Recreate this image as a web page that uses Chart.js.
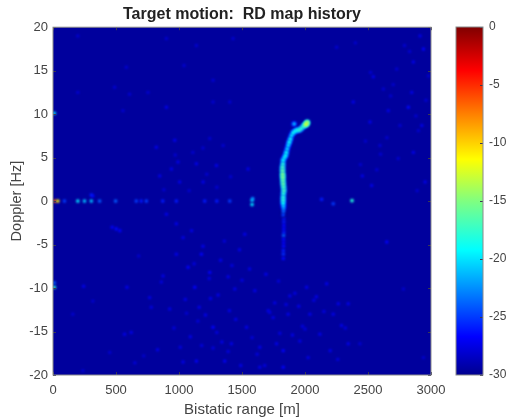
<!DOCTYPE html>
<html>
<head>
<meta charset="utf-8">
<title>RD map history</title>
<script src="https://cdn.jsdelivr.net/npm/chart.js"></script>
<style>
  html, body { margin: 0; padding: 0; background: #fff; }
  #wrap { position: relative; width: 508px; height: 419px; }
  canvas { position: absolute; top: 0; filter: blur(0.4px); }
  #rdMap { left: 0; }
  #colorBar { left: 440px; }
</style>
</head>
<body>
<div id="wrap">
  <canvas id="rdMap" width="508" height="419"></canvas>
  <canvas id="colorBar" width="68" height="419"></canvas>
</div>
<script>
// target track
const targetRange =   [1827, 1829, 1830, 1829, 1827, 1827, 1827, 1829, 1832, 1830, 1827, 1825, 1824, 1823, 1822, 1822, 1825, 1827, 1836, 1846, 1852, 1859, 1867, 1875, 1884, 1893, 1906, 1920, 1914, 1936, 1954, 1970, 1986, 2000, 2012, 2018]
const targetDoppler = [-1.6, -1.2, -0.9, -0.6, -0.25, 0.1, 0.44, 0.85, 1.21, 1.6, 1.98, 2.35, 2.74, 3.1, 3.51, 3.9, 4.28, 4.7, 5.0, 5.24, 5.6, 6.0, 6.4, 6.77, 7.15, 7.54, 7.85, 8.04, 8.88, 8.15, 8.19, 8.35, 8.57, 8.75, 8.88, 9.05]
const targetLevel =   [-25, -24, -23, -21, -19, -18, -18, -18, -17, -17, -16, -16, -15, -15, -16, -17, -18, -19, -20, -19, -19, -20, -20, -19, -19, -20, -19, -19, -21, -19, -18, -18, -18, -15, -12, -14]

// faint streak running below the target
const trailRange =   [1832, 1832, 1832, 1832, 1832, 1830, 1830, 1830, 1830, 1828, 1828, 1828]
const trailDoppler = [-2.0, -2.4, -2.8, -3.2, -3.6, -3.97, -4.4, -4.8, -5.2, -5.7, -6.1, -6.6]
const trailLevel =   [-26, -26, -26.5, -26.5, -26, -24, -26.5, -27, -26.5, -26, -25.5, -26.5]

// zero doppler clutter and the isolated returns
const clutterRange =   [12, 38, 91, 197, 250, 304, 304, 370, 497, 661, 700, 741, 871, 979, 1204, 1300, 1403, 1580, 1585, 1580, 2132, 2224, 2373, 10, 10, 502, 530, 470, 10]
const clutterDoppler = [0, 0, 0, 0, 0, 0, 0.7, 0, 0, 0, 0, 0, 0, 0, 0, 0, 0, -0.4, 0.3, 0.1, 0.2, -0.3, 0.05, 10.1, -9.9, -3.2, -3.4, -3.0, -9.4]
const clutterLevel =   [-6, -11, -25, -20, -21, -21, -26, -24, -24, -25, -26, -25, -26, -26, -26, -26, -25, -20, -23, -21, -26, -25, -18, -20, -18, -26.5, -27, -27, -24]

// background speckle
const speckleRange = [900, 979, 1178, 1244, 1125, 587, 243, 568, 621, 926, 1270, 1363, 1032, 1138, 1416, 1032, 873, 767, 157, 316, 237, 1443, 979, 1072,
  582, 900, 555, 197, 489, 608, 754, 820, 966, 1138, 992, 847, 940, 1297, 1350, 1244, 1429, 900, 197, 1138, 1270, 1270, 1403, 1005, 1191, 316,
  2820, 2940, 2251, 2913, 2542, 2860, 2383, 2661, 2516, 2455, 2860, 2728, 2622, 2754, 2595, 2927, 2529, 2953, 2847, 1548,
  2649, 2781, 1827, 1866, 1747, 2013, 2264, 2343, 2343, 1641, 1708, 2118, 2039, 1959, 1536, 1602, 1522, 2172, 1880, 2224, 1774, 1641, 2025, 1827, 2940, 2436,
  1100, 1190, 1330, 1480, 1050, 1400, 1210, 1340, 830, 1090, 720, 680, 450, 1390, 1490, 1250, 1160, 1310, 1450, 1560, 1690, 1760, 1900, 1950, 2090, 2200, 2290,
  2700, 2790, 2880, 2650, 2480, 2570, 2980, 2400, 2740, 2890,
  1040, 1120, 1240, 1360, 860, 960, 1180, 1300, 1420, 780, 650, 1060, 1150, 1270, 1390, 1500, 1620, 1720, 1800, 1850, 1980, 2070, 2150, 2260, 2320, 1580, 1680, 1790, 1920, 2000,
  1010, 1110, 1220, 1300, 1410, 880, 970, 1080, 1190, 2600, 2680, 2830, 2900, 2960, 2520, 2440]
const speckleDoppler = [-1.5, -2.6, -6.1, -8.2, -9.9, -9.9, -9.8, -15.3, -15.1, -12.4, -14.5, -18.4, -18.5, -18.4, -16.4, -4.2, -8.6, -11.1, -13, -11.5, -19.5, -10.1, -6.1, -7.6,
  15.4, 10.8, 10.4, 12.5, 13.1, 12.3, 12.5, 6.2, 7, 4.3, 4.5, 2.9, 3.7, 4.1, 6.4, 7.2, 18.7, 18.7, 19, 17.9, 13.9, 11.4, 11.4, 2.2, 2.2, 0.6,
  10.8, 17.5, 17.7, 19, 14.3, 16, 11.4, 10.4, 9.1, 2.9, 5.6, 15.2, 12.9, 8.7, 6.4, 8.7, 1.8, 2.2, 12.5, 3.7,
  -4.7, -10.1, -17.2, -13, -13.4, -9.9, -11.8, -11.8, -16.4, -16.8, -12.6, -15.3, -13, -16.1, -14.5, -10.3, -3.8, -9.5, -10.9, -13, -16.4, -19.1, -18, -19.1, -18, -16.4,
  -3.4, -5.2, -6.8, -5.6, -11.3, -12.6, -13.1, -16.2, -17.1, -15.6, -17.8, -6.3, -17.4, -8.7, -18.9, -11.2, -12.2, -10.8, -13.6, -7.8, -8.4, -11.7, -15.4, -12.1, -11, -17.2, -14.3,
  13.4, 17.9, 9.8, 7.3, 6.9, 3.6, 14.4, 18.2, 4.9, 1.2, 15.6,
  -7.2, -8.9, -4.6, -9.3, -14.6, -16.6, -15.1, -7.4, -12.2, -18.6, -12.9, -13.8, -16.9, -17.3, -9.1, -17.6, -12.8, -15.2, -11.9, -14.4, -11.4, -12.7, -18.2, -14.6, -15.7, -18.9, -9.2, -10.6, -14.7, -16.8,
  5.6, 3.1, 1.6, 2.8, 1.3, 5.3, 1.2, 6.1, 5.4, 12.1, 17.2, 8.1, 11.6, 14.8, 4.2, 7.7]
const speckleLevel = [-27.3, -27.3, -26.7, -26.7, -26.7, -27.3, -27.3, -27.3, -27.3, -27.3, -26.7, -26.7, -27.3, -26.7, -27.3, -27.3, -27.3, -27.3, -28, -28, -28, -27.3, -27.3, -26.7,
  -28, -27.3, -28, -28, -28, -28, -28, -27.3, -27.3, -27.3, -27.3, -27.3, -27.3, -27.3, -28, -28, -28, -28, -28, -28, -28, -28, -28, -27.3, -27.3, -26.7,
  -26.5, -26.7, -28, -27.3, -27.3, -27.3, -27.3, -27.3, -27.3, -27.3, -27.3, -28, -28, -28, -28, -27.3, -27.3, -27.3, -27.3, -27.3,
  -26.7, -28, -26.7, -27.3, -27.3, -27.3, -27.3, -27.3, -27.3, -27.3, -27.3, -27.3, -27.3, -27.3, -27.3, -27.3, -27.3, -27.3, -27.3, -27.3, -27.3, -27.3, -27.3, -26.7, -28, -28,
  -27.3, -27.3, -27.3, -27.3, -27.3, -27.3, -27.3, -27.3, -27.3, -27.3, -28, -28, -28, -27.3, -27.3, -27.3, -27.3, -27.3, -27.3, -27.3, -27.3, -27.3, -27.3, -27.3, -27.3, -27.3, -27.3,
  -28, -28, -28, -28, -28, -28, -28, -28, -28, -28, -28,
  -27.6, -27.6, -27.6, -27.6, -27.6, -27.6, -27.6, -27.6, -27.6, -27.6, -28, -27.6, -27.6, -27.6, -27.6, -27.6, -27.6, -27.6, -27.6, -27.6, -27.6, -27.6, -27.6, -27.6, -27.6, -27.6, -27.6, -27.6, -27.6, -27.6,
  -28, -28, -28, -28, -28, -28, -28, -28, -28, -28, -28, -28, -28, -28, -28, -28]

const rangeTicks = [0, 500, 1000, 1500, 2000, 2500, 3000]
const dopplerTicks = [-20, -15, -10, -5, 0, 5, 10, 15, 20]
const levelTicks = [-30, -25, -20, -15, -10, -5, 0]

const jetStops = ['#00008f', '#0000ff', '#00ffff', '#80ff80', '#ffff00', '#ff8000', '#ff0000', '#800000']
const jetPos = [0, 0.11, 0.36, 0.5, 0.62, 0.75, 0.875, 1]
const textColor = '#444'
const fontFamily = '"Liberation Sans", Arial, sans-serif'

function hexRgb(h) {
  return [1, 3, 5].map(i => parseInt(h.substr(i, 2), 16))
}

// level in dB to a colour on the same scale as the colour bar
function jet(level) {
  const t = Math.min(1, Math.max(0, (level + 30) / 30))
  let i = 0
  while (i < jetPos.length - 2 && t > jetPos[i + 1]) i++
  const f = (t - jetPos[i]) / (jetPos[i + 1] - jetPos[i])
  const a = hexRgb(jetStops[i]), b = hexRgb(jetStops[i + 1])
  const c = a.map((v, k) => Math.round(v + (b[k] - v) * f))
  return 'rgb(' + c.join(',') + ')'
}

function points(xs, ys, levels) {
  return xs.map((x, i) => ({ x: x, y: ys[i], level: levels[i] }))
}

function marks(data, radius) {
  return {
    data: data,
    showLine: false,
    pointStyle: 'circle',
    pointRadius: radius,
    pointBorderWidth: 0,
    pointBackgroundColor: c => jet(c.raw.level)
  }
}

const heatPlugin = {
  id: 'heat',
  beforeDatasetsDraw(chart) {
    const a = chart.chartArea, g = chart.ctx
    g.save()
    g.fillStyle = jet(-29.6)
    g.fillRect(a.left, a.top, a.width, a.height)
    g.filter = 'blur(0.9px)'
  },
  afterDatasetsDraw(chart) {
    chart.ctx.restore()
  }
}

// matlab style box with the small ticks pointing inwards
const framePlugin = {
  id: 'frame',
  afterDraw(chart) {
    const a = chart.chartArea, g = chart.ctx
    g.save()
    g.strokeStyle = '#3a3a50'
    g.lineWidth = 1
    g.beginPath()
    const yAxis = chart.scales.y
    yAxis.ticks.forEach(t => {
      const p = Math.round(yAxis.getPixelForValue(t.value)) + 0.5
      if (chart.canvas.id === 'rdMap') {
        g.moveTo(a.left, p); g.lineTo(a.left + 3, p)
        g.moveTo(a.right, p); g.lineTo(a.right - 3, p)
      } else {
        g.moveTo(a.right, p); g.lineTo(a.right - 3, p)
      }
    })
    if (chart.canvas.id === 'rdMap') {
      const xAxis = chart.scales.x
      xAxis.ticks.forEach(t => {
        const p = Math.round(xAxis.getPixelForValue(t.value)) + 0.5
        g.moveTo(p, a.bottom); g.lineTo(p, a.bottom - 3)
        g.moveTo(p, a.top); g.lineTo(p, a.top + 3)
      })
    }
    g.stroke()
    g.strokeStyle = '#8a8a8a'
    g.strokeRect(a.left, a.top, a.width, a.height)
    g.restore()
  }
}

new Chart(document.getElementById('rdMap'), {
  type: 'scatter',
  data: {
    datasets: [
      marks(points(targetRange, targetDoppler, targetLevel), 1.9),
      marks(points(targetRange, targetDoppler, targetLevel.map(v => v - 6)), 3),
      marks(points(trailRange, trailDoppler, trailLevel), 1.8),
      marks(points(clutterRange, clutterDoppler, clutterLevel), 1.8),
      marks(points(speckleRange, speckleDoppler, speckleLevel), 1.7)
    ]
  },
  options: {
    responsive: false,
    animation: false,
    layout: { padding: { left: 0, right: 77, top: 0, bottom: 0 } },
    plugins: {
      legend: { display: false },
      tooltip: { enabled: false },
      title: {
        display: true,
        fullSize: false,
        text: 'Target motion:  RD map history',
        color: '#222',
        font: { family: fontFamily, size: 16, weight: 'bold' },
        padding: { top: 5, bottom: 3 }
      }
    },
    scales: {
      x: {
        type: 'linear',
        min: 0,
        max: 3000,
        afterBuildTicks: s => { s.ticks = rangeTicks.map(v => ({ value: v })) },
        afterFit: s => { s.height = 44 },
        grid: { display: false, drawTicks: false },
        border: { display: false },
        ticks: { color: textColor, padding: 8, maxRotation: 0, font: { family: fontFamily, size: 13 }, callback: v => String(v) },
        title: { display: true, text: 'Bistatic range [m]', color: textColor, padding: { top: 2, bottom: 0 }, font: { family: fontFamily, size: 15 } }
      },
      y: {
        type: 'linear',
        min: -20,
        max: 20,
        afterBuildTicks: s => { s.ticks = dopplerTicks.map(v => ({ value: v })) },
        afterFit: s => { s.width = 53 },
        grid: { display: false, drawTicks: false },
        border: { display: false },
        ticks: { color: textColor, padding: 5, font: { family: fontFamily, size: 13 }, callback: v => String(v) },
        title: { display: true, text: 'Doppler [Hz]', color: textColor, padding: { top: 8, bottom: 0 }, font: { family: fontFamily, size: 14.5 } }
      }
    }
  },
  plugins: [heatPlugin, framePlugin]
})

new Chart(document.getElementById('colorBar'), {
  type: 'bar',
  data: {
    labels: ['level'],
    datasets: [{
      data: [[levelTicks[0], levelTicks[levelTicks.length - 1]]],
      barPercentage: 1,
      categoryPercentage: 1,
      backgroundColor: c => {
        const a = c.chart.chartArea
        if (!a) return jetStops[0]
        const grad = c.chart.ctx.createLinearGradient(0, a.bottom, 0, a.top)
        jetStops.forEach((s, i) => grad.addColorStop(jetPos[i], s))
        return grad
      }
    }]
  },
  options: {
    responsive: false,
    animation: false,
    layout: { padding: { left: 16, right: 0, top: 27, bottom: 44 } },
    plugins: { legend: { display: false }, tooltip: { enabled: false } },
    scales: {
      x: { display: false },
      y: {
        position: 'right',
        min: -30,
        max: 0,
        afterBuildTicks: s => { s.ticks = levelTicks.map(v => ({ value: v })) },
        afterFit: s => { s.width = 25 },
        grid: { display: false, drawTicks: false },
        border: { display: false },
        ticks: { color: textColor, padding: 6, font: { family: fontFamily, size: 12 }, callback: v => String(v) }
      }
    }
  },
  plugins: [framePlugin]
})
</script>
</body>
</html>
